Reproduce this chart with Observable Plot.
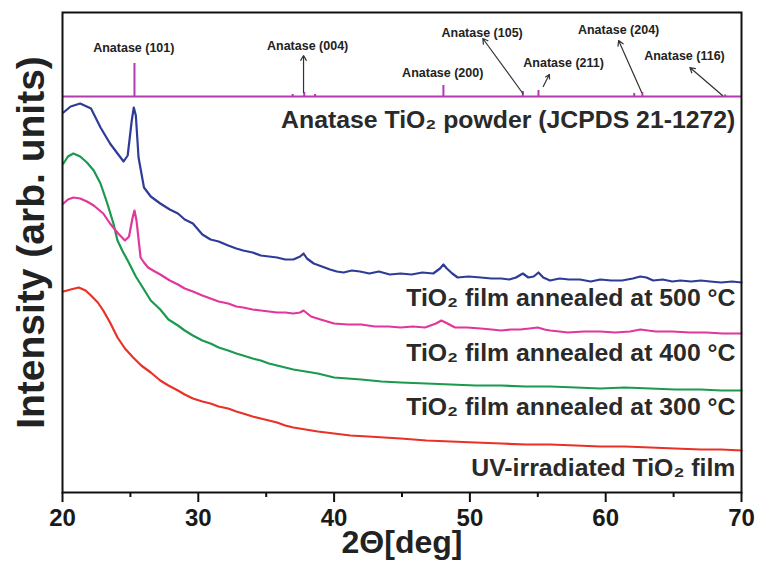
<!DOCTYPE html>
<html>
<head>
<meta charset="utf-8">
<script src="https://cdn.jsdelivr.net/npm/d3@7"></script>
<script src="https://cdn.jsdelivr.net/npm/@observablehq/plot@0.6"></script>
<style>
  html, body { margin: 0; padding: 0; background: #fff; }
  svg { display: block; }
</style>
</head>
<body>
<div id="chart"></div>
<script>
// ---- Data (2θ in degrees, intensity in arbitrary units) ----
const blueX = [20.07,20.6,21.3,22.1,22.8,23.5,24.05,24.5,24.8,25.1,25.25,25.4,25.6,26.0,26.5,27.2,27.9,28.5,29.0,29.6,30.3,30.9,31.5,32.2,32.8,33.3,34.0,34.6,35.2,35.8,36.4,37.0,37.5,37.75,38.0,38.5,39.1,39.7,40.2,40.7,41.3,41.9,42.6,43.3,44.1,44.9,45.7,46.5,47.3,47.8,48.05,48.3,48.7,49.1,49.9,50.8,51.6,52.3,52.9,53.4,53.9,54.3,54.7,55.05,55.4,55.9,56.6,57.3,58.1,58.9,59.6,60.4,61.2,62.0,62.55,63.0,63.5,64.2,64.9,65.5,66.3,67.0,67.7,68.5,69.3,70.0];
const blueY = [380,386,389,384,365,349,339,331,337,372,385,377,335,305,296,289,283,279,273,269,258,253,251,247,244,242,240,237,236,235,233,233,236,239,234,229,226,223,221,220,222,221,219,221,218,219,218,220,219,224,228,224,219,215,216,215,214,214,213,215,219,215,216,220,215,212,214,213,213,211,213,212,212,214,216,215,212,213,211,212,211,212,211,210,211,210];

const pinkX = [20.07,20.4,20.8,21.3,21.8,22.3,23.0,23.5,24.1,24.6,24.9,25.15,25.3,25.45,25.75,26.0,26.3,26.8,27.2,27.9,28.5,29.0,29.6,30.3,30.9,31.5,32.2,32.8,33.3,34.0,34.6,35.2,35.8,36.4,37.0,37.5,37.75,38.3,39.0,40.0,41.0,42.0,43.0,44.0,44.9,45.8,46.7,47.5,47.9,48.35,48.9,49.8,50.8,51.6,52.3,53.0,53.7,54.4,55.0,55.5,55.9,56.6,57.2,58.4,59.6,60.7,61.8,62.55,63.1,63.7,64.9,66.2,67.4,68.6,70.0];
const pinkY = [289,293,295,294,291,287,279,269,259,252,256,274,282,272,235,230,225,221,218,212,208,204,201,197,194,191,189,186,185,183,182,181,180,180,179,180,182,176,173,169,168,168,166,166,165,166,165,169,172,169,165,165,164,163,162,163,163,164,165,163,162,161,160,161,161,160,161,163,162,161,161,160,160,159,159];

const greenX = [20.07,20.4,20.8,21.3,21.8,22.3,22.8,23.3,23.75,24.05,24.4,24.8,25.4,26.0,26.5,27.2,27.8,28.5,29.0,29.6,30.3,30.9,31.5,32.2,32.8,33.3,34.0,34.6,35.2,35.8,36.4,37.0,37.9,38.8,40.0,41.0,42.0,43.5,44.9,46.8,48.6,50.4,52.3,54.1,55.9,57.8,59.6,61.4,63.3,65.1,67.0,68.5,70.0];
const greenY = [329,336,339,336,330,322,309,289,269,252,242,232,216,203,192,183,173,167,162,157,152,149,145,142,139,137,134,132,129,127,125,123,121,119,115,114,113,111,110,109,108,107,107,106,106,105,104,105,104,103,103,102,102];

const redX = [20.07,20.6,21.2,21.7,22.1,22.6,23.0,23.5,24.05,24.6,25.2,25.8,26.5,27.2,27.8,28.5,29.0,29.6,30.3,30.9,31.5,32.2,32.8,33.3,34.0,34.6,35.2,35.8,36.4,37.0,37.9,38.8,40.0,41.2,42.5,43.7,44.9,46.8,48.6,50.4,52.3,54.1,55.9,57.8,59.6,61.4,63.3,65.1,67.0,68.5,70.0];
const redY = [201,203,205,202,197,190,182,170,155,144,135,127,120,112,107,102,98,94,91,89,86,84,81,79,76,74,72,70,67,65,63,61,59,57,56,55,54,52,51,50,49,48,48,47,46,46,45,44,43,43,42];

// Reference powder pattern (JCPDS 21-1272): baseline and stick peaks
const powderBase = 396;
const powderPeakX = [25.3,36.95,37.8,38.6,48.05,53.9,55.05,62.1,62.7,68.8];
const powderPeakH = [33,2,4,2,11,5,6,3,4,1.5];

// Peak annotations
const annoText = ["Anatase (101)","Anatase (004)","Anatase (200)","Anatase (105)","Anatase (211)","Anatase (204)","Anatase (116)"];
const annoX = [25.25,38.05,48.0,50.9,56.9,60.95,65.8];
const annoY = [445,447,420,460,430,463,437];
// arrows: from peak toward its label
const arrowX1 = [37.75,53.9,55.4,62.65,68.6];
const arrowY1 = [400,399,406,400,397];
const arrowX2 = [37.75,50.95,55.85,60.95,66.2];
const arrowY2 = [437,454,418,452,425];

// Curve labels
const seriesLabels = ["Anatase TiO\u2082 powder (JCPDS 21-1272)","TiO\u2082 film annealed at 500\u00A0\u00B0C","TiO\u2082 film annealed at 400\u00A0\u00B0C","TiO\u2082 film annealed at 300\u00A0\u00B0C","UV-irradiated TiO\u2082 film"];
const seriesLabelY = [372,194,139,85,24];

const xTicks = [20,30,40,50,60,70];
const xMinorTicks = [25,35,45,55,65];

// ---- Build tables ----
const zip = (xs, ys) => xs.map((x, i) => ({x, y: ys[i]}));
const blue = zip(blueX, blueY), pink = zip(pinkX, pinkY), green = zip(greenX, greenY), red = zip(redX, redY);
const peaks = powderPeakX.map((x, i) => ({x, y1: powderBase, y2: powderBase + powderPeakH[i]}));
const annos = annoText.map((t, i) => ({t, x: annoX[i], y: annoY[i]}));
const arrows = arrowX1.map((x1, i) => ({x1, y1: arrowY1[i], x2: arrowX2[i], y2: arrowY2[i]}));
const labels = seriesLabels.map((t, i) => ({t, y: seriesLabelY[i]}));

const sans = "'Liberation Sans', Arial, sans-serif";

const chart = Plot.plot({
  width: 759,
  height: 575,
  marginLeft: 62,
  marginRight: 18,
  marginTop: 12,
  marginBottom: 83,
  style: {fontFamily: sans, background: "#fff", color: "#111"},
  x: {domain: [20, 70]},
  y: {domain: [0, 480], axis: null},
  marks: [
    Plot.axisX({ticks: xMinorTicks, tickSize: 5, text: null, strokeWidth: 2, label: null}),
    Plot.axisX({ticks: xTicks, tickSize: 10, tickPadding: 6, strokeWidth: 2, label: null,
      fontSize: 24, fontWeight: "bold", fill: "#1a1a1a"}),
    Plot.ruleY([powderBase], {stroke: "#b03cb0", strokeWidth: 2}),
    Plot.ruleX(peaks, {x: "x", y1: "y1", y2: "y2", stroke: "#b03cb0", strokeWidth: 2}),
    Plot.arrow(arrows, {x1: "x1", y1: "y1", x2: "x2", y2: "y2", stroke: "#333", strokeWidth: 1.2, headLength: 7}),
    Plot.text(annos, {x: "x", y: "y", text: "t", fontSize: 12.5, fill: "#222", fontWeight: "bold"}),
    Plot.line(red, {x: "x", y: "y", stroke: "#e83228", strokeWidth: 2.2}),
    Plot.line(green, {x: "x", y: "y", stroke: "#1a9a4e", strokeWidth: 2.2}),
    Plot.line(pink, {x: "x", y: "y", stroke: "#e0379c", strokeWidth: 2.2}),
    Plot.line(blue, {x: "x", y: "y", stroke: "#2e3b98", strokeWidth: 2.2}),
    Plot.text(labels, {x: 69.55, y: "y", text: "t", textAnchor: "end", fontSize: 24.8, fontWeight: "bold", fill: "#2a2a2a"}),
    Plot.frame({stroke: "#111", strokeWidth: 2}),
    Plot.text(["Intensity (arb. units)"], {frameAnchor: "left", textAnchor: "middle", rotate: -90, dx: -31, dy: -10, fontSize: 39, fontWeight: "bold", fill: "#222"}),
    Plot.text(["2\u0398[deg]"], {frameAnchor: "bottom", dy: 60, fontSize: 32, fontWeight: "bold", fill: "#222"})
  ]
});
document.getElementById("chart").appendChild(chart);
</script>
</body>
</html>
